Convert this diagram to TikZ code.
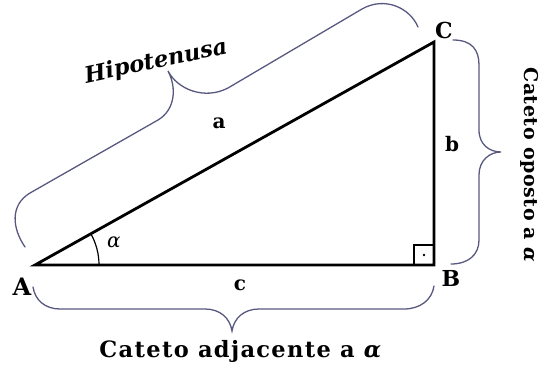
\documentclass[tikz,border=0pt]{standalone}
\usepackage{fontspec}
\setmainfont{DejaVu Serif}
\definecolor{bracecol}{RGB}{88,88,128}
\tikzset{
  brace/.style={draw=bracecol, line width=1.3pt, line cap=round},
  side/.style={draw=black, line width=2.8pt, line join=miter},
  vlabel/.style={font=\bfseries\fontsize{22}{24}\selectfont, inner sep=0pt},
  slabel/.style={font=\bfseries\fontsize{20}{22}\selectfont, inner sep=0pt},
  caption/.style={font=\bfseries\fontsize{22.5}{26}\selectfont\addfontfeature{LetterSpace=6}, inner sep=0pt},
}
\begin{document}
\begin{tikzpicture}[x=1pt,y=-1pt]
\useasboundingbox (0,0) rectangle (542,367);
% vertices
\coordinate (A) at (35,265);
\coordinate (B) at (434,265);
\coordinate (C) at (434,42);
% triangle
\draw[side] (A) -- (B) -- (C) -- cycle;
% right angle mark
\draw[line width=1.1pt] (414,265) -- (414,245) -- (434,245);
\fill (424,255) circle (1.4);
% angle arc
\draw[line width=1.2pt] ([shift={(0:64)}]A) arc[start angle=0, end angle=-29.2, radius=64];
% braces
\draw[brace] (25,247) .. controls (12,228) and (10,205) .. (30,193) -- (158,120) .. controls (175,110) and (177,88) .. (168,71) .. controls (178,90) and (205,100) .. (228,88) -- (362,9) .. controls (385,-4) and (410,8) .. (418,27);
\draw[brace] (453,40) .. controls (472,40) and (479,50) .. (479,65) -- (479,130) .. controls (479,145) and (490,152) .. (501,152) .. controls (490,152) and (479,160) .. (479,175) -- (479,240) .. controls (479,255) and (468,264) .. (451,264);
\draw[brace] (33,287) .. controls (35,300) and (45,309) .. (60,309) -- (205,309) .. controls (220,309) and (230,318) .. (232,331) .. controls (234,318) and (244,309) .. (259,309) -- (404,309) .. controls (420,309) and (432,300) .. (434,286);
% vertex labels
\node[vlabel, font=\bfseries\fontsize{24}{26}\selectfont] (lA) at (22,287) {A};
\node[vlabel] (lB) at (451,278) {B};
\node[vlabel] (lC) at (444,30) {C};
% side labels
\node[slabel] (la) at (219,123) {a};
\node[slabel] (lb) at (452,144) {b};
\node[slabel] (lc) at (240,285) {c};
\node[inner sep=0pt, font=\itshape\fontsize{20}{22}\selectfont] (lal) at (114,242) {α};
% captions
\node[inner sep=0pt, rotate=12, font=\bfseries\itshape\fontsize{22.5}{26}\selectfont] (hip) at (156,62) {Hipotenusa};
\node[caption] (adj) at (241,351) {Cateto adjacente a \textit{α}};
\node[caption, font=\bfseries\fontsize{19}{22}\selectfont\addfontfeature{LetterSpace=3}, rotate=-90] (opo) at (530,165) {Cateto oposto a \textit{α}};
\end{tikzpicture}
\end{document}
